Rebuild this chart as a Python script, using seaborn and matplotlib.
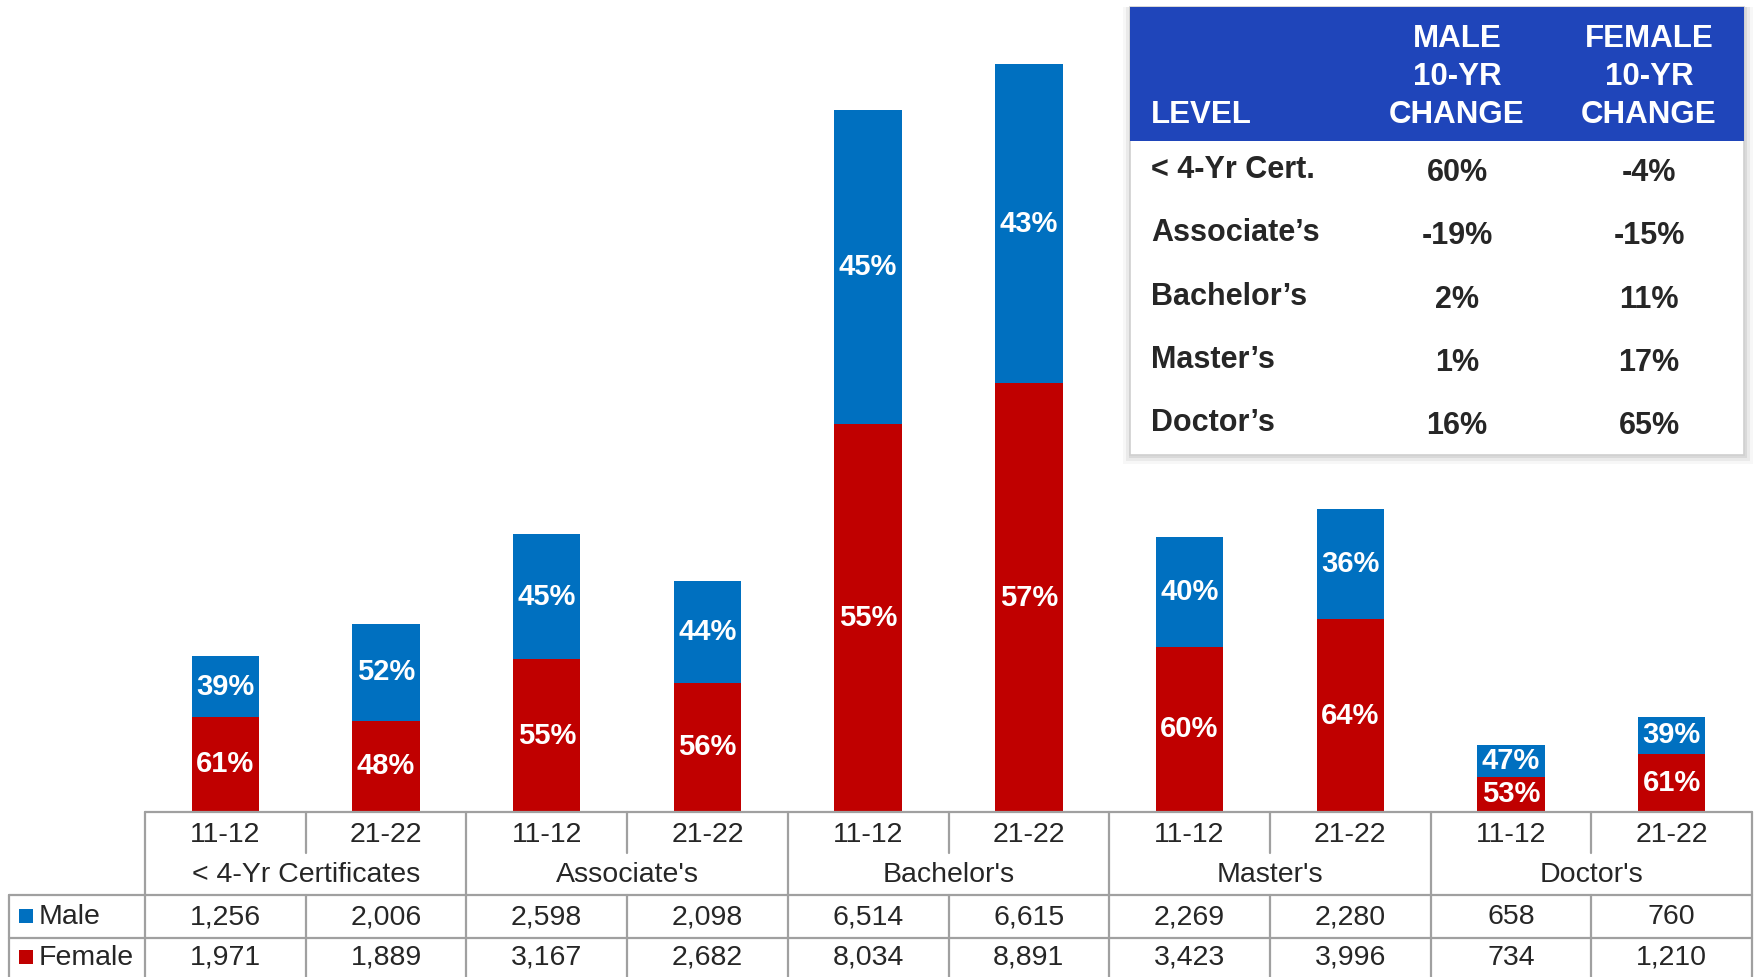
import numpy as np
import pandas as pd
import matplotlib
matplotlib.use("Agg")
import matplotlib.pyplot as plt
import matplotlib.transforms as mtransforms
from matplotlib.patches import Rectangle
from matplotlib.lines import Line2D
import seaborn as sns

# ---- data ----
levels = ["< 4-Yr Certificates", "Associate's", "Bachelor's", "Master's", "Doctor's"]
years = ["11-12", "21-22"]
male = [1256, 2006, 2598, 2098, 6514, 6615, 2269, 2280, 658, 760]
female = [1971, 1889, 3167, 2682, 8034, 8891, 3423, 3996, 734, 1210]
male_pct = ["39%", "52%", "45%", "44%", "45%", "43%", "40%", "36%", "47%", "39%"]
female_pct = ["61%", "48%", "55%", "56%", "55%", "57%", "60%", "64%", "53%", "61%"]

inset_levels = ["< 4-Yr Cert.", "Associate\u2019s", "Bachelor\u2019s", "Master\u2019s", "Doctor\u2019s"]
male_change = ["60%", "-19%", "2%", "1%", "16%"]
female_change = ["-4%", "-15%", "11%", "17%", "65%"]

MALE_C = "#0070C0"
FEMALE_C = "#C00000"
HEAD_C = "#1F45BA"
GRID_C = "#A0A0A0"

W, H = 1758, 977

sns.set_style("white")
plt.rcParams["font.family"] = ["Liberation Sans", "DejaVu Sans"]


def fx(px):
    return px / W


def fy(py):
    return 1 - py / H


df = pd.DataFrame({
    "key": [f"{l}|{y}" for l in levels for y in years],
    "male": male,
    "female": female,
})
df["total"] = df["male"] + df["female"]

fig = plt.figure(figsize=(W / 100, H / 100), dpi=100)
ax = fig.add_axes([fx(145), fy(812), fx(1752) - fx(145), fy(0) - fy(812)])

# stacked bars: total in blue, female drawn over it in red
sns.barplot(data=df, x="key", y="total", color=MALE_C, width=0.42,
            saturation=1, ax=ax, edgecolor="none")
sns.barplot(data=df, x="key", y="female", color=FEMALE_C, width=0.42,
            saturation=1, ax=ax, edgecolor="none")

ax.set_xlim(-0.5, len(df) - 0.5)
ax.set_ylim(0, 16833)
ax.axis("off")

# percent labels inside bars
for i, row in df.iterrows():
    ax.text(i, row["female"] / 2, female_pct[i], ha="center", va="center",
            color="white", fontsize=21, fontweight="bold")
    ax.text(i, row["female"] + row["male"] / 2, male_pct[i], ha="center",
            va="center", color="white", fontsize=21, fontweight="bold")

# ---- data table under the chart ----
bt = mtransforms.blended_transform_factory(ax.transData, fig.transFigure)
n = len(df)


def hline(x0, x1, y, tr):
    fig.add_artist(Line2D([x0, x1], [y, y], transform=tr, color=GRID_C, lw=1.6))


def vline(x, y0, y1, tr):
    fig.add_artist(Line2D([x, x], [y0, y1], transform=tr, color=GRID_C, lw=1.6))


hline(-0.5, n - 0.5, fy(812), bt)
hline(fx(9), fx(1752), fy(895), fig.transFigure)
hline(fx(9), fx(1752), fy(938), fig.transFigure)
vline(fx(9), fy(895), fy(977), fig.transFigure)
for k in range(0, n + 1, 2):
    vline(k - 0.5, fy(812), fy(977), bt)
for k in range(1, n, 2):
    vline(k - 0.5, fy(812), fy(853), bt)
    vline(k - 0.5, fy(895), fy(977), bt)

for i in range(n):
    fig.text(i, fy(835), years[i % 2], transform=bt, ha="center", va="center",
             fontsize=20.5)
    fig.text(i, fy(917), f"{male[i]:,}", transform=bt, ha="center", va="center",
             fontsize=20.5)
    fig.text(i, fy(958), f"{female[i]:,}", transform=bt, ha="center", va="center",
             fontsize=20.5)
for j, lev in enumerate(levels):
    fig.text(2 * j + 0.5, fy(875), lev, transform=bt, ha="center", va="center",
             fontsize=20.5)

for label, col, yc in [("Male", MALE_C, 916), ("Female", FEMALE_C, 957)]:
    fig.add_artist(Rectangle((fx(19), fy(yc + 7)), fx(14), fy(0) - fy(14),
                             transform=fig.transFigure, color=col, lw=0))
    fig.text(fx(39), fy(yc + 1), label, ha="left", va="center", fontsize=20.5)

# ---- inset change table ----
bx0, bx1, by0, byh, by1 = 1130, 1744, 7, 141, 455
for off, a in [(9, 0.03), (6, 0.05), (3, 0.07)]:
    fig.add_artist(Rectangle((fx(bx0 - off + 2), fy(by1 + off)), fx(bx1 - bx0 + 2 * off - 2),
                             fy(by0) - fy(by1 + off), transform=fig.transFigure,
                             color="black", alpha=a, lw=0))
fig.add_artist(Rectangle((fx(bx0), fy(by1)), fx(bx1 - bx0), fy(by0) - fy(by1),
                         transform=fig.transFigure, facecolor="white",
                         edgecolor="#D0D0D0", lw=1.2))
fig.add_artist(Rectangle((fx(bx0), fy(byh)), fx(bx1 - bx0), fy(by0) - fy(byh),
                         transform=fig.transFigure, facecolor=HEAD_C, lw=0))

fig.text(fx(1151), fy(115), "LEVEL", ha="left", va="center", color="white",
         fontsize=22.5, fontweight="bold")
for cx, word in [(1457, "MALE"), (1649, "FEMALE")]:
    for yy, t in [(39, word), (77, "10-YR"), (115, "CHANGE")]:
        fig.text(fx(cx), fy(yy), t, ha="center", va="center", color="white",
                 fontsize=22.5, fontweight="bold")

row_y = [173, 236, 300, 363, 426]
for yy, lev, mc, fc in zip(row_y, inset_levels, male_change, female_change):
    fig.text(fx(1151), fy(yy - 3), lev, ha="left", va="center", fontsize=22,
             fontweight="bold")
    fig.text(fx(1457), fy(yy), mc, ha="center", va="center", fontsize=22,
             fontweight="bold")
    fig.text(fx(1649), fy(yy), fc, ha="center", va="center", fontsize=22,
             fontweight="bold")

fig.savefig("out.png", dpi=100)
